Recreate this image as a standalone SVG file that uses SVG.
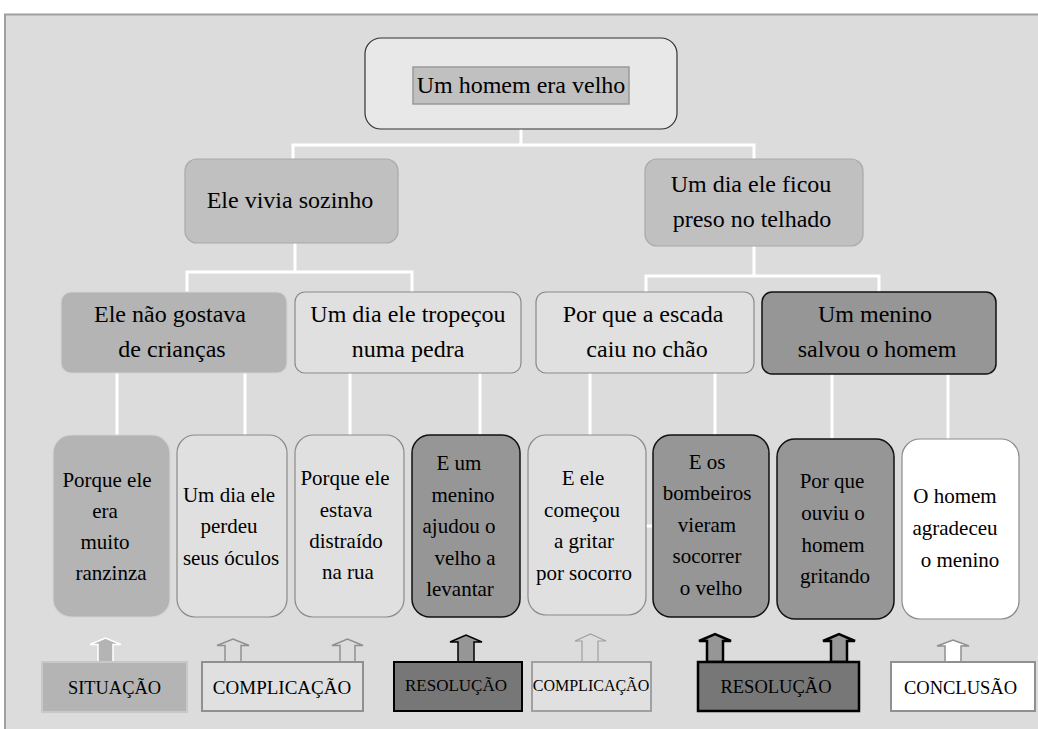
<svg xmlns="http://www.w3.org/2000/svg" width="1038" height="729" viewBox="0 0 1038 729">
<style>
text{font-family:"Liberation Serif","Times New Roman",serif;fill:#000;text-anchor:middle}
.t24{font-size:24px}
.t21{font-size:21px}
.conn{stroke:#fff;stroke-width:3;fill:none}
.light{fill:#e0e0e0;stroke:#8a8a8a;stroke-width:1.2}
.dark{fill:#969696;stroke:#111;stroke-width:1.5}
.mid{fill:#b4b4b4;stroke:#d4d4d4;stroke-width:1.2}
.l1{fill:#c0c0c0;stroke:#a8a8a8;stroke-width:1.2}
</style>
<rect x="0" y="0" width="1038" height="729" fill="#ffffff"/>
<rect x="5" y="14.5" width="1040" height="720" fill="#dcdcdc" stroke="#a0a0a0" stroke-width="2"/>

<g id="connectors">
<path class="conn" d="M521,129 V145 M293,159 V145 H754 V159"/>
<path class="conn" d="M295,243 V272 M187,292 V272 H412 V292"/>
<path class="conn" d="M754,246 V276 M646,292 V276 H879 V292"/>
<path class="conn" d="M117,373 V435 M245,373 V435 M350,373 V435 M480,373 V435 M590,373 V435 M715,373 V435 M832,373 V439 M948,373 V439"/>
<path class="conn" d="M646,526 H652" stroke-width="2"/>
</g>

<g id="root">
<rect x="365" y="38" width="312" height="91" rx="16" fill="#e8e8e8" stroke="#333" stroke-width="1.2"/>
<rect x="413" y="67" width="216" height="37" fill="#c0c0c0" stroke="#999" stroke-width="1.5"/>
<text class="t24" x="521" y="93">Um homem era velho</text>
</g>

<g id="n-vivia">
<rect class="l1" x="185" y="159" width="213" height="84" rx="12"/>
<text class="t24" x="290" y="208">Ele vivia sozinho</text>
</g>
<g id="n-telhado">
<rect class="l1" x="645" y="159" width="218" height="87" rx="12"/>
<text class="t24" x="751" y="192">Um dia ele ficou</text>
<text class="t24" x="752" y="227">preso no telhado</text>
</g>

<g id="n-criancas">
<rect class="mid" x="61" y="292" width="226" height="81" rx="10"/>
<text class="t24" x="170" y="322">Ele não gostava</text>
<text class="t24" x="172" y="357">de crianças</text>
</g>
<g id="n-pedra">
<rect class="light" x="295" y="292" width="226" height="81" rx="10"/>
<text class="t24" x="408" y="322">Um dia ele tropeçou</text>
<text class="t24" x="408" y="357">numa pedra</text>
</g>
<g id="n-escada">
<rect class="light" x="536" y="292" width="218" height="81" rx="10" stroke="#a0a0a0"/>
<text class="t24" x="643" y="322">Por que a escada</text>
<text class="t24" x="647" y="357">caiu no chão</text>
</g>
<g id="n-menino">
<rect class="dark" x="762" y="292" width="234" height="82" rx="10"/>
<text class="t24" x="875" y="322">Um menino</text>
<text class="t24" x="877" y="357">salvou o homem</text>
</g>

<g id="b1">
<rect class="mid" x="53" y="435" width="117" height="182" rx="18"/>
<text class="t21" x="107" y="487">Porque ele</text>
<text class="t21" x="105" y="518">era</text>
<text class="t21" x="105" y="549">muito</text>
<text class="t21" x="111" y="580">ranzinza</text>
</g>
<g id="b2">
<rect class="light" x="177" y="435" width="110" height="182" rx="18"/>
<text class="t21" x="229" y="502">Um dia ele</text>
<text class="t21" x="229" y="533">perdeu</text>
<text class="t21" x="231" y="565">seus óculos</text>
</g>
<g id="b3">
<rect class="light" x="295" y="435" width="109" height="182" rx="18"/>
<text class="t21" x="345" y="485">Porque ele</text>
<text class="t21" x="346" y="517">estava</text>
<text class="t21" x="346" y="548">distraído</text>
<text class="t21" x="348" y="579">na rua</text>
</g>
<g id="b4">
<rect class="dark" x="412" y="435" width="108" height="182" rx="18"/>
<text class="t21" x="459" y="470">E um</text>
<text class="t21" x="463" y="502">menino</text>
<text class="t21" x="459" y="533">ajudou o</text>
<text class="t21" x="465" y="565">velho a</text>
<text class="t21" x="460" y="596">levantar</text>
</g>
<g id="b5">
<rect class="light" x="528" y="435" width="118" height="180" rx="18"/>
<text class="t21" x="583" y="485">E ele</text>
<text class="t21" x="582" y="517">começou</text>
<text class="t21" x="584" y="548">a gritar</text>
<text class="t21" x="584" y="580">por socorro</text>
</g>
<g id="b6">
<rect class="dark" x="653" y="435" width="116" height="182" rx="18"/>
<text class="t21" x="707" y="469">E os</text>
<text class="t21" x="707" y="500">bombeiros</text>
<text class="t21" x="707" y="532">vieram</text>
<text class="t21" x="707" y="563">socorrer</text>
<text class="t21" x="711" y="595">o velho</text>
</g>
<g id="b7">
<rect class="dark" x="777" y="439" width="117" height="180" rx="18"/>
<text class="t21" x="832" y="488">Por que</text>
<text class="t21" x="833" y="520">ouviu o</text>
<text class="t21" x="833" y="552">homem</text>
<text class="t21" x="835" y="583">gritando</text>
</g>
<g id="b8">
<rect x="902" y="439" width="117" height="180" rx="18" fill="#ffffff" stroke="#8a8a8a" stroke-width="1.2"/>
<text class="t21" x="955" y="503">O homem</text>
<text class="t21" x="955" y="535">agradeceu</text>
<text class="t21" x="960" y="567">o menino</text>
</g>

<g id="leg-situacao">
<path d="M98,662 V644.5 H90 L105.5,638 L121,644.5 H113 V662 Z" fill="#b4b4b4" stroke="#ffffff" stroke-width="1.5"/>
<rect x="42" y="662" width="145" height="50" fill="#b4b4b4" stroke="#c8c8c8" stroke-width="2"/>
<text x="114.5" y="694" font-size="18.4">SITUAÇÃO</text>
</g>
<g id="leg-complicacao1">
<path d="M225,662 V645.5 H217 L233,639 L249,645.5 H241 V662" fill="#dcdcdc" stroke="#909090" stroke-width="1.5"/>
<path d="M340,662 V645.5 H332 L347.5,639 L363,645.5 H355 V662" fill="#dcdcdc" stroke="#909090" stroke-width="1.5"/>
<rect x="202" y="662" width="161" height="49" fill="#e0e0e0" stroke="#909090" stroke-width="2"/>
<text x="282" y="694" font-size="19">COMPLICAÇÃO</text>
</g>
<g id="leg-resolucao1">
<path d="M458,662 V642 H450 L466,635 L482,642 H474 V662 Z" fill="#969696" stroke="#000" stroke-width="1.5"/>
<rect x="394" y="662" width="128" height="49" fill="#777777" stroke="#000" stroke-width="2"/>
<text x="456" y="691" font-size="17">RESOLUÇÃO</text>
</g>
<g id="leg-complicacao2">
<path d="M582,662 V641 H575 L590.5,634 L606,641 H598 V662" fill="#dcdcdc" stroke="#a0a0a0" stroke-width="1.2"/>
<rect x="532" y="662" width="119" height="49" fill="#e0e0e0" stroke="#a0a0a0" stroke-width="2"/>
<text x="591" y="691" font-size="16">COMPLICAÇÃO</text>
</g>
<g id="leg-resolucao2">
<path d="M707,662 V641 H699 L715,634 L731,641 H723 V662 Z" fill="#969696" stroke="#000" stroke-width="2.5"/>
<path d="M831,662 V641 H823 L839,634 L855,641 H847 V662 Z" fill="#969696" stroke="#000" stroke-width="2.5"/>
<rect x="698" y="662" width="161" height="49" fill="#777777" stroke="#000" stroke-width="2.5"/>
<text x="776" y="693" font-size="18.5">RESOLUÇÃO</text>
</g>
<g id="leg-conclusao">
<path d="M945,662 V646 H937 L953,640 L969,646 H961 V662 Z" fill="#ffffff" stroke="#909090" stroke-width="1.5"/>
<rect x="891" y="662" width="144" height="49" fill="#ffffff" stroke="#909090" stroke-width="2"/>
<text x="960.5" y="694" font-size="18.5">CONCLUSÃO</text>
</g>
</svg>
